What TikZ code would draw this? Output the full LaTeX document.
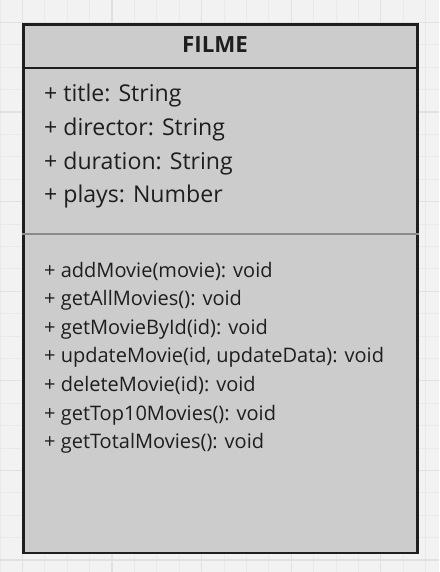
\documentclass[tikz,border=0pt]{standalone}
\usepackage{fontspec}
\setmainfont{Open Sans}
\definecolor{bgc}{HTML}{F2F2F2}
\definecolor{minorc}{HTML}{E9E9E9}
\definecolor{majorc}{HTML}{E1E1E1}
\definecolor{boxfill}{HTML}{CCCCCC}
\definecolor{boxline}{HTML}{1E1E1E}
\definecolor{sepc}{HTML}{8A8A8A}
\definecolor{txt}{HTML}{1E1E1E}
\tikzset{
  minorline/.style={draw=minorc, line width=1pt},
  majorline/.style={draw=majorc, line width=1.2pt},
  classbox/.style={draw=boxline, fill=boxfill, line width=2.6pt, rectangle, inner sep=0pt, minimum width=394pt, minimum height=528pt, anchor=north west},
  titletext/.style={font=\fontsize{22.3}{22}\selectfont\bfseries, text=txt, inner sep=0pt, anchor=base},
  attrtext/.style={font=\fontsize{23.1}{23}\selectfont, text=txt, inner sep=0pt, anchor=base west},
  methtext/.style={font=\fontsize{20}{20}\selectfont, text=txt, inner sep=0pt, anchor=base west},
}
\begin{document}
\begin{tikzpicture}[x=1pt,y=-1pt]
\useasboundingbox (0,0) rectangle (439,572);
\fill[bgc] (0,0) rectangle (439,572);
\foreach \i in {0,...,19} {
  \draw[minorline] (\i*22.4,0) -- (\i*22.4,572);
}
\foreach \i in {0,...,25} {
  \draw[minorline] (0,\i*22.4) -- (439,\i*22.4);
}
\foreach \i in {0,...,4} {
  \draw[majorline] (22.4+\i*89.6,0) -- (22.4+\i*89.6,572);
}
\foreach \i in {0,...,6} {
  \draw[majorline] (0,22.4+\i*89.6) -- (439,22.4+\i*89.6);
}
\node[classbox] (cls) at (22,23.5) {};
\coordinate (s1) at (0,68);
\coordinate (s2) at (0,234);
\draw[draw=boxline, line width=2pt] (cls.west |- s1) -- (cls.east |- s1);
\draw[draw=sepc, line width=1.6pt] (cls.west |- s2) -- (cls.east |- s2);
\node[titletext] (title) at (215,52.3) {FILME};
\node[attrtext] (a1) at (44,101.7) {+ title: String};
\node[attrtext] (a2) at (44,135.4) {+ director: String};
\node[attrtext] (a3) at (44,169.1) {+ duration: String};
\node[attrtext] (a4) at (44,202.8) {+ plays: Number};
\node[methtext] (m1) at (44,277) {+ addMovie(movie): void};
\node[methtext] (m2) at (44,305.6) {+ getAllMovies(): void};
\node[methtext] (m3) at (44,334.2) {+ getMovieById(id): void};
\node[methtext] (m4) at (44,362.8) {+ updateMovie(id, updateData): void};
\node[methtext] (m5) at (44,391.4) {+ deleteMovie(id): void};
\node[methtext] (m6) at (44,420) {+ getTop10Movies(): void};
\node[methtext] (m7) at (44,448.6) {+ getTotalMovies(): void};
\end{tikzpicture}
\end{document}
